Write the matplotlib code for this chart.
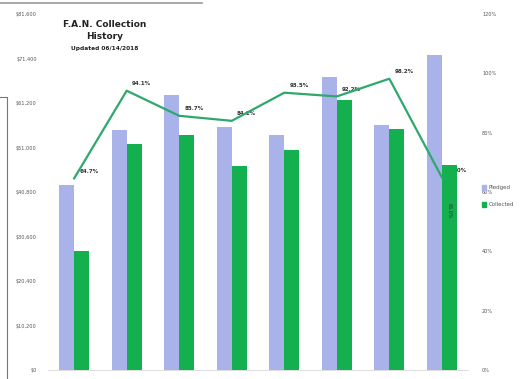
import matplotlib
matplotlib.use("Agg")
import matplotlib.pyplot as plt
from matplotlib.ticker import FuncFormatter, MultipleLocator
import numpy as np

categories = ["1", "2", "3", "4", "5", "6", "7", "8"]
pledged = [42400, 55000, 63000, 55700, 53900, 67100, 56200, 72200]
collected = [27400, 51800, 54000, 46800, 50400, 61900, 55200, 46900]
pct_labels = ["64.7%", "94.1%", "85.7%", "84.1%", "93.5%", "92.2%", "98.2%", "65.0%"]

left_step = 10200
pct_ticks = [0, 20, 40, 60, 80, 100, 120]

BLUE = "#a9b3ea"
GREEN = "#14b04f"
LINE = "#2ea86c"
TXT = "#555555"

fig = plt.figure(figsize=(5.32, 3.79), dpi=100)
ax = fig.add_axes([0.090, 0.0237, 0.790, 0.939])
ax2 = ax.twinx()

x = np.arange(len(categories))
w = 0.285
ax.bar(x - w / 2, pledged, w, color=BLUE, zorder=2, label="Pledged")
ax.bar(x + w / 2, collected, w, color=GREEN, zorder=2, label="Collected")
ax.set_xlim(-0.5, len(categories) - 0.5)
ax.set_ylim(0, left_step * 8)
ax.yaxis.set_major_locator(MultipleLocator(left_step))
ax.yaxis.set_major_formatter(FuncFormatter(lambda v, p: "${:,.0f}".format(v)))
ax.set_xticks([])

pct = [c / p * 100 for c, p in zip(collected, pledged)]
ax2.plot(x, pct, color=LINE, lw=1.6, zorder=3)
ax2.set_ylim(0, 120)
ax2.set_yticks(pct_ticks)
ax2.set_yticklabels([f"{t}%" for t in pct_ticks])

for xi, yi, lab in zip(x, pct, pct_labels):
    ax.text(xi + 0.1, yi + 1.5, lab, transform=ax2.transData, fontsize=4,
            color="#333333", ha="left", va="bottom", zorder=1, fontweight="bold")

# rotated data label inside the last green bar
ax.text(x[-1] + w / 2, collected[-1] * 0.78, "65.0%", rotation=270, fontsize=3.5,
        color="#1d3b25", ha="center", va="center", zorder=4)

for a in (ax, ax2):
    for s in a.spines.values():
        s.set_visible(False)
    a.tick_params(length=0, labelsize=3.6, colors=TXT)
ax.tick_params(axis="y", pad=8)
ax2.tick_params(axis="y", pad=10)
ax.spines["bottom"].set_visible(True)
ax.spines["bottom"].set_color("#d8d8d8")
ax.spines["bottom"].set_linewidth(0.6)

# title
fig.text(0.197, 0.935, "F.A.N. Collection", fontsize=6.5, fontweight="bold",
         ha="center", va="center", color="#222222")
fig.text(0.197, 0.903, "History", fontsize=6.5, fontweight="bold",
         ha="center", va="center", color="#222222")
fig.text(0.197, 0.872, "Updated 06/14/2018", fontsize=4.2, fontweight="bold",
         ha="center", va="center", color="#222222")

# legend
fig.patches.append(plt.Rectangle((0.906, 0.5), 0.008, 0.011, color=BLUE,
                                 transform=fig.transFigure, figure=fig))
fig.text(0.918, 0.506, "Pledged", fontsize=4, color=TXT, va="center")
fig.patches.append(plt.Rectangle((0.906, 0.455), 0.008, 0.011, color=GREEN,
                                 transform=fig.transFigure, figure=fig))
fig.text(0.918, 0.461, "Collected", fontsize=4, color=TXT, va="center")

# scan frame artifacts
fig.add_artist(plt.Line2D([0, 0.38], [0.993, 0.993], color="#9a9a9a", lw=1.2,
                          transform=fig.transFigure))
fig.add_artist(plt.Line2D([0.0, 0.013, 0.013], [0.745, 0.745, 0.0], color="#777777",
                          lw=0.8, transform=fig.transFigure))

fig.savefig("out.png", dpi=100)
